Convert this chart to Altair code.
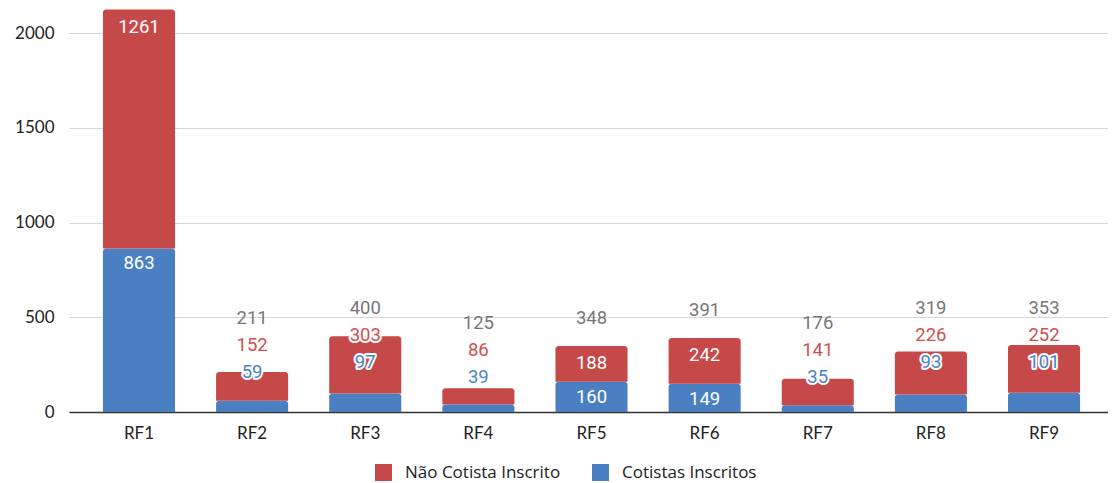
import altair as alt
import pandas as pd

categories = ["RF1", "RF2", "RF3", "RF4", "RF5", "RF6", "RF7", "RF8", "RF9"]
cotistas = [863, 59, 97, 39, 160, 149, 35, 93, 101]
nao_cotistas = [1261, 152, 303, 86, 188, 242, 141, 226, 252]
series_names = ["Não Cotista Inscrito", "Cotistas Inscritos"]
series_colors = ["#c6494a", "#4a7fc2"]
label_colors = ["#cf4f4f", "#4a83c6"]
total_color = "#777777"
y_ticks = [0, 500, 1000, 1500, 2000]

Y_MAX = 2132
PLOT_W = 1046
PLOT_H = 404
PX = PLOT_H / Y_MAX  # pixels per unit

# bar segments
bar_rows = []
for c, b, r in zip(categories, cotistas, nao_cotistas):
    bar_rows.append({"cat": c, "series": series_names[1], "y0": 0, "y1": b})
    bar_rows.append({"cat": c, "series": series_names[0], "y0": b, "y1": b + r})
bars_df = pd.DataFrame(bar_rows)

# label layout (pixel offsets converted to data units)
lab_rows = []
for c, b, r in zip(categories, cotistas, nao_cotistas):
    t = b + r
    bp, tp = b * PX, t * PX
    if b * PX >= 26 and r * PX >= 26:
        lab_rows.append({"cat": c, "text": str(b), "y": (bp - 15) / PX, "kind": "inside", "fill": "white"})
        lab_rows.append({"cat": c, "text": str(r), "y": (tp - 17) / PX, "kind": "inside", "fill": "white"})
        tot = tp + 28
    else:
        blue_y = min(max(tp, 35), 50)
        red_y = blue_y + 27
        tot = red_y + 27
        lab_rows.append({"cat": c, "text": str(b), "y": blue_y / PX, "kind": "outside", "fill": label_colors[1]})
        lab_rows.append({"cat": c, "text": str(r), "y": red_y / PX, "kind": "outside", "fill": label_colors[0]})
    if tot < PLOT_H - 10:
        lab_rows.append({"cat": c, "text": str(t), "y": tot / PX, "kind": "total", "fill": total_color})
labels_df = pd.DataFrame(lab_rows)

x_enc = alt.X(
    "cat:N",
    sort=categories,
    scale=alt.Scale(range=[7, 1052], paddingInner=0.363, paddingOuter=0.3),
    axis=alt.Axis(
        title=None, labelAngle=0, ticks=False, domainColor="#333333", domainWidth=1.5,
        labelFont="Lato", labelFontSize=17, labelColor="#222222", labelPadding=13, grid=False,
    ),
)
y_scale = alt.Scale(domain=[0, Y_MAX], nice=False, zero=True)

bars = alt.Chart(bars_df).mark_bar(cornerRadiusTopLeft=3, cornerRadiusTopRight=3).encode(
    x=x_enc,
    y=alt.Y(
        "y0:Q", scale=y_scale,
        axis=alt.Axis(
            title=None, values=y_ticks, format="d", ticks=False, domain=False, labelFont="Lato",
            labelFontSize=17, labelColor="#222222", labelPadding=8,
            gridColor="#d6d6d6", gridWidth=1,
        ),
    ),
    y2="y1:Q",
    color=alt.Color(
        "series:N",
        scale=alt.Scale(domain=series_names, range=series_colors),
        legend=alt.Legend(
            title=None, orient="none", legendX=313, legendY=456, direction="horizontal",
            symbolType="square", symbolSize=289, symbolStrokeWidth=0, labelFont="Open Sans",
            labelFontSize=17, labelColor="#222222", labelOffset=13, columnPadding=31,
        ),
    ),
    order=alt.Order("y0:Q"),
)

halo = alt.Chart(labels_df).transform_filter("datum.kind == 'outside'").mark_text(
    font="Roboto", fontSize=18.5, baseline="middle", align="center",
    stroke="white", strokeWidth=4, strokeJoin="round", color="white",
).encode(x=alt.X("cat:N", sort=categories), y=alt.Y("y:Q", scale=y_scale), text="text:N")

texts = alt.Chart(labels_df).mark_text(
    font="Roboto", fontSize=18.5, baseline="middle", align="center",
).encode(
    x=alt.X("cat:N", sort=categories),
    y=alt.Y("y:Q", scale=y_scale),
    text="text:N",
    color=alt.Color("fill:N", scale=None),
)

chart = alt.layer(bars, halo, texts).properties(
    width=PLOT_W, height=PLOT_H,
    autosize=alt.AutoSizeParams(type="none"),
    padding={"left": 54, "top": 0, "right": 0, "bottom": 70},
).configure_view(stroke=None)

chart.save("out.html", embed_options={"renderer": "svg", "actions": False})
